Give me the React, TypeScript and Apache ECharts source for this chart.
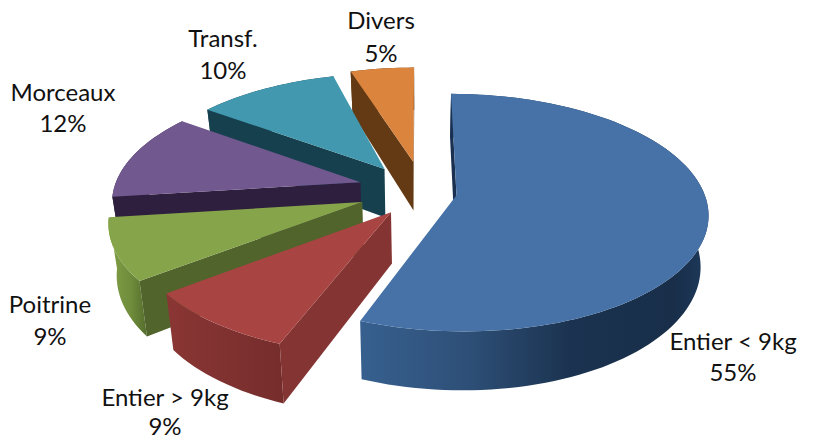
import React, { useEffect, useRef } from "react";
import * as echarts from "echarts";

const categories = ["Entier < 9kg", "Entier > 9kg", "Poitrine", "Morceaux", "Transf.", "Divers"];
const shares = [55, 9, 9, 12, 10, 5];

const FONT = "Lato, Carlito, sans-serif";
const explode = [0.175, 0.225, 0.225, 0.225, 0.225, 0.225];
// per-slice screen nudge and angle corrections (deg) for the reference's camera
const nudge = [[-2, 1], [9.5, 1], [-1, 3], [-3, 0], [-2, 0], [3, -3]];
const startCorrection = [0, 3, 2, 0, 0, 0.5];
const endCorrection = [3, 2, 0, 0, 3, 0];
const labelAt = [
  [733, 340, 371],
  [165, 396, 425],
  [50, 303, 335],
  [63, 91, 122],
  [223, 37, 69],
  [381, 19, 52],
];
const topColor = ["#4672A7", "#A84442", "#86A44A", "#71588F", "#4198AF", "#DB843D"];
const cutColor = ["#1A3050", "#843432", "#50642C", "#2E1F3F", "#17404F", "#643A14"];
const wallStops: [number, string][][] = [
  [[0, "#37608F"], [0.3, "#2E5078"], [0.6, "#1B3350"], [0.9, "#182E49"], [1, "#1E3A5C"]],
  [[0, "#8A3634"], [1, "#752D2C"]],
  [[0, "#83A047"], [0.6, "#6E8C3B"], [1, "#556C2D"]],
  [[0, "#2E1F3F"], [1, "#2E1F3F"]],
  [[0, "#17404F"], [1, "#17404F"]],
  [[0, "#643A14"], [1, "#643A14"]],
];

const CX = 416;
const CY = 190;
const RX = 247;
const RY = 115;
const K = 0.146;
const DEPTH = 50;
const CONVERGE = 0.027;
const DEG = Math.PI / 180;

function project(mx: number, my: number, bottom: boolean): number[] {
  const d = 1 - K * my;
  let x = CX + (RX * mx) / d;
  let y = CY + (RY * my) / d;
  if (bottom) {
    y += DEPTH / d;
    x -= (x - CX) * CONVERGE;
  }
  return [x, y];
}

const total = shares.reduce((a, b) => a + b, 0);
const nominal: number[] = [0];
shares.forEach((v, i) => {
  nominal[i + 1] = nominal[i] + (v / total) * Math.PI * 2;
});

function renderSlice(params: any, api: any) {
  const i = api.value(0) as number;
  const v = api.value(1) as number;
  const a0 = nominal[i] + startCorrection[i] * DEG;
  const a1 = nominal[i + 1] + endCorrection[i] * DEG;
  const nominalMid = (nominal[i] + nominal[i + 1]) / 2 + 3 * DEG;
  const ox = explode[i] * Math.sin(nominalMid);
  const oy = -explode[i] * Math.cos(nominalMid);
  const at = (a: number, r: number, b: boolean) => {
    const p = project(ox + r * Math.sin(a), oy - r * Math.cos(a), b);
    return [p[0] + nudge[i][0], p[1] + nudge[i][1]];
  };
  const base = (categories.length - i) * 10;
  const mid = (a0 + a1) / 2;

  const steps = Math.max(8, Math.round((a1 - a0) * 30));
  const rimTop: number[][] = [];
  const rimBot: number[][] = [];
  for (let s = 0; s <= steps; s++) {
    const a = a0 + ((a1 - a0) * s) / steps;
    rimTop.push(at(a, 1, false));
    rimBot.push(at(a, 1, true));
  }
  const apexTop = at(0, 0, false);
  const apexBot = at(0, 0, true);
  const inner = at(mid, 0.5, false);

  const faces: any[] = [];
  faces.push({
    type: "polygon",
    z2: base,
    shape: { points: rimTop.concat(rimBot.slice().reverse()) },
    style: {
      fill: new echarts.graphic.LinearGradient(
        0, 0, 1, 0,
        wallStops[i].map(([offset, color]) => ({ offset, color }))
      ),
    },
  });
  [a0, a1].forEach((a, n) => {
    const rt = at(a, 1, false);
    const rb = at(a, 1, true);
    const ex = rt[0] - apexTop[0];
    const ey = rt[1] - apexTop[1];
    const side = ex * (inner[1] - apexTop[1]) - ey * (inner[0] - apexTop[0]);
    const down = ex * DEPTH;
    if (side * down < 0) {
      faces.push({
        type: "polygon",
        z2: base + 1 + n,
        shape: { points: [apexTop, rt, rb, apexBot] },
        style: { fill: cutColor[i] },
      });
    }
  });
  faces.push({
    type: "polygon",
    z2: base + 4,
    shape: { points: [apexTop].concat(rimTop) },
    style: { fill: topColor[i] },
  });
  const textStyle = {
    x: labelAt[i][0],
    fontFamily: FONT,
    fontSize: 24,
    lineHeight: 18,
    fill: "#111",
    align: "center",
    verticalAlign: "middle",
  };
  faces.push({
    type: "text",
    z2: 200,
    style: { ...textStyle, y: labelAt[i][1], text: categories[i] },
  });
  faces.push({
    type: "text",
    z2: 200,
    style: { ...textStyle, y: labelAt[i][2], text: `${v}%` },
  });
  return { type: "group", children: faces };
}

export default function App() {
  const ref = useRef<HTMLDivElement>(null);
  useEffect(() => {
    document.body.style.margin = "0";
    const chart = echarts.init(ref.current!, undefined, { renderer: "svg" });
    chart.setOption({
      animation: false,
      backgroundColor: "#fff",
      series: [
        {
          type: "custom",
          coordinateSystem: "none",
          silent: true,
          clip: false,
          renderItem: renderSlice,
          data: shares.map((v, i) => [i, v]),
        },
      ],
    });
    return () => chart.dispose();
  }, []);
  return <div ref={ref} style={{ width: 826, height: 438 }} />;
}
